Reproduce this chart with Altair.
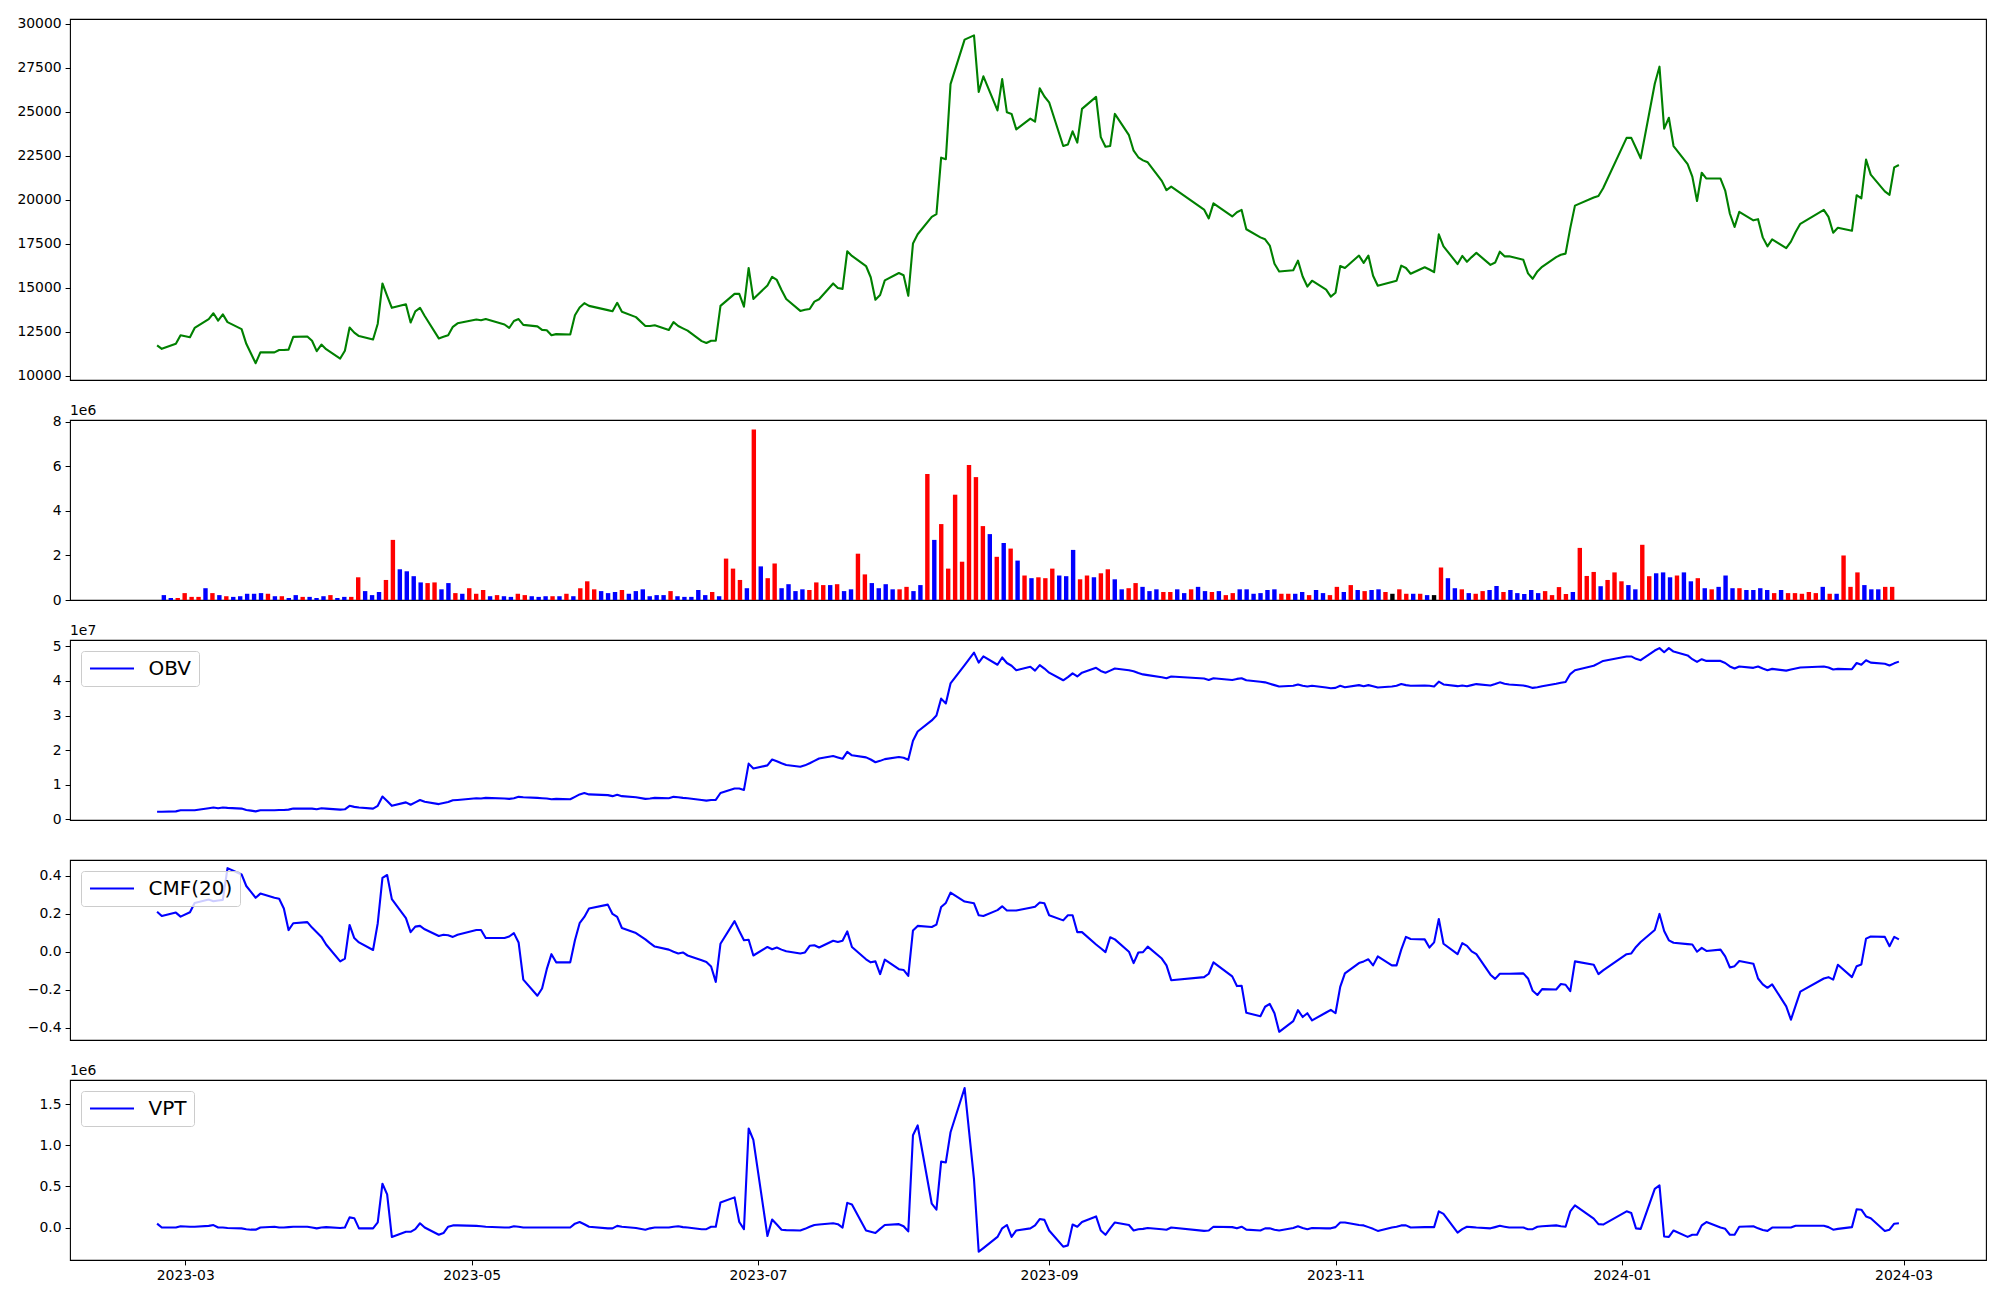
import altair as alt
import pandas as pd

# ---------------- data ----------------
TRADING_DAYS = [
    ("2023-02", [23, 24, 27, 28]),
    ("2023-03", [2, 3, 6, 7, 8, 9, 10, 13, 14, 15, 16, 17, 20, 21, 22, 23, 24, 27, 28, 29, 30, 31]),
    ("2023-04", [3, 4, 5, 6, 7, 10, 11, 12, 13, 14, 17, 18, 19, 20, 21, 24, 25, 26, 27, 28]),
    ("2023-05", [2, 3, 4, 8, 9, 10, 11, 12, 15, 16, 17, 18, 19, 22, 23, 24, 25, 26, 30, 31]),
    ("2023-06", [1, 2, 5, 7, 8, 9, 12, 13, 14, 15, 16, 19, 20, 21, 22, 23, 26, 27, 28, 29, 30]),
    ("2023-07", [3, 4, 5, 6, 7, 10, 11, 12, 13, 14, 17, 18, 19, 20, 21, 24, 25, 26, 27, 28, 31]),
    ("2023-08", [1, 2, 3, 4, 7, 8, 9, 10, 11, 14, 16, 17, 18, 21, 22, 23, 24, 25, 28, 29, 30, 31]),
    ("2023-09", [1, 4, 5, 6, 7, 8, 11, 12, 13, 14, 15, 18, 19, 20, 21, 22, 25, 26, 27]),
    ("2023-10", [4, 5, 6, 10, 11, 12, 13, 16, 17, 18, 19, 20, 23, 24, 25, 26, 27, 30, 31]),
    ("2023-11", [1, 2, 3, 6, 7, 8, 9, 10, 13, 14, 15, 16, 17, 20, 21, 22, 23, 24, 27, 28, 29, 30]),
    ("2023-12", [1, 4, 5, 6, 7, 8, 11, 12, 13, 14, 15, 18, 19, 20, 21, 22, 26, 27, 28]),
    ("2024-01", [2, 3, 4, 5, 8, 9, 10, 11, 12, 15, 16, 17, 18, 19, 22, 23, 24, 25, 26, 29, 30, 31]),
    ("2024-02", [1, 2, 5, 6, 7, 8, 13, 14, 15, 16, 19, 20, 21, 22, 23, 26, 27, 28, 29]),
]
DATES = [f"{m}-{d:02d}" for m, days in TRADING_DAYS for d in days]

PRICE = [
    11736, 11539, 11824, 12308,
    12198, 12726, 13231, 13561, 13143, 13495, 13055, 12660, 11824, 11275, 10725, 11341, 11341, 11473, 11473, 11495, 12220, 12242, 12000, 11407, 11780, 11517,
    10989, 11429, 12748, 12462, 12264, 12066, 12967, 15253, 14550, 13868, 14066, 13033, 13671, 13868, 13407, 12132, 12220, 12308, 12791, 12989,
    13209, 13165, 13231, 12923, 12725, 13121, 13231, 12901, 12813, 12616, 12594, 12308, 12374, 12352, 13451, 13890, 14132, 13978, 13737, 13671,
    14154, 13649, 13341, 12835, 12835, 12879, 12616, 13055, 12835, 12704, 12572, 11978, 11868, 12000, 12000, 13978, 14660, 14660, 13934, 16132, 14374,
    15143, 15627, 15451, 14880, 14374, 13693, 13759, 13803, 14220, 14352, 15253, 14990, 14946, 17077, 16814, 16242, 15605, 14330, 14594, 15429, 15847,
    15715, 14550, 17517, 18045, 19034, 19188, 22397, 22309, 26573, 29101, 29342, 26133, 27013, 25079, 26859, 24968, 24881, 24001, 24617, 24441, 26331, 25870,
    25540, 23056, 23144, 23891, 23254, 25166, 25848, 23562, 23012, 23056, 24880, 23672, 22792, 22419, 22243, 22133, 21078, 20550, 20748,
    19451, 18946, 19803, 19056, 19298, 19429, 18330, 17869, 17759, 17407, 16374, 15935, 16001, 16550, 15649, 15077, 15407, 14902, 14506,
    14726, 16242, 16132, 16836, 16418, 16836, 15693, 15121, 15341, 15407, 16264, 16132, 15803, 16176, 16044, 15891, 18045, 17363, 16352, 16814, 16484, 16748,
    16990, 16308, 16440, 17055, 16792, 16792, 16594, 15825, 15517, 15935, 16198, 16748, 16880, 16946, 18396, 19671, 20133, 20221, 20660,
    23518, 23518, 22946, 22353, 26595, 27562, 24045, 24661, 23056, 22023, 21320, 19935, 21540, 21210, 21210, 20528, 19210, 18462, 19320, 18836, 18902, 17869,
    17363, 17759, 17253, 17627, 18177, 18638, 19429, 19034, 18133, 18418, 18243, 20265, 20089, 22287, 21430, 20485, 20287, 21847, 21979,
]

# volume, in units of 1e6 (one bar per trading session, drawn by session number)
VOLUME = [
    0.22, 0.09, 0.09, 0.31, 0.14, 0.14, 0.53, 0.31, 0.22, 0.17,
    0.14, 0.17, 0.28, 0.28, 0.31, 0.28, 0.17, 0.17, 0.09, 0.22,
    0.14, 0.14, 0.09, 0.17, 0.22, 0.09, 0.14, 0.14, 1.02, 0.40,
    0.22, 0.36, 0.90, 2.70, 1.38, 1.29, 1.07, 0.79, 0.76, 0.79,
    0.48, 0.76, 0.31, 0.28, 0.53, 0.28, 0.45, 0.17, 0.22, 0.17,
    0.14, 0.28, 0.22, 0.17, 0.14, 0.17, 0.17, 0.17, 0.28, 0.17,
    0.53, 0.84, 0.48, 0.40, 0.31, 0.36, 0.45, 0.28, 0.40, 0.48,
    0.17, 0.22, 0.22, 0.40, 0.17, 0.14, 0.14, 0.45, 0.22, 0.36,
    0.17, 1.86, 1.41, 0.90, 0.53, 7.66, 1.51, 0.98, 1.64, 0.53,
    0.71, 0.40, 0.48, 0.45, 0.79, 0.67, 0.67, 0.71, 0.40, 0.48,
    2.08, 1.15, 0.76, 0.53, 0.71, 0.48, 0.48, 0.59, 0.40, 0.67,
    5.66, 2.70, 3.41, 1.41, 4.73, 1.72, 6.06, 5.52, 3.32, 2.96,
    1.94, 2.56, 2.31, 1.77, 1.10, 0.98, 1.02, 0.98, 1.41, 1.10,
    1.07, 2.25, 0.93, 1.10, 1.02, 1.20, 1.38, 0.93, 0.48, 0.53,
    0.76, 0.59, 0.40, 0.48, 0.36, 0.36, 0.48, 0.31, 0.48, 0.59,
    0.40, 0.36, 0.40, 0.22, 0.31, 0.48, 0.48, 0.28, 0.31, 0.45,
    0.48, 0.28, 0.28, 0.28, 0.36, 0.22, 0.45, 0.31, 0.22, 0.59,
    0.36, 0.67, 0.45, 0.40, 0.45, 0.48, 0.36, 0.28, 0.48, 0.28,
    0.28, 0.28, 0.22, 0.22, 1.46, 0.98, 0.53, 0.48, 0.31, 0.28,
    0.40, 0.45, 0.63, 0.36, 0.45, 0.31, 0.27, 0.45, 0.31, 0.40,
    0.22, 0.58, 0.27, 0.36, 2.34, 1.08, 1.26, 0.62, 0.90, 1.24,
    0.84, 0.67, 0.48, 2.48, 1.07, 1.20, 1.24, 1.02, 1.10, 1.24,
    0.84, 0.98, 0.53, 0.48, 0.59, 1.10, 0.53, 0.53, 0.45, 0.45,
    0.53, 0.45, 0.31, 0.45, 0.31, 0.31, 0.28, 0.36, 0.31, 0.59,
    0.28, 0.28, 2.00, 0.59, 1.24, 0.67, 0.48, 0.48, 0.59, 0.59,
]
# bar colour per session: r = up, b = down, k = unchanged
BAR_COLOR_CODES = (
    "bbrrrrbrbr" "bbbbbrbrbb" "rbbbrbbrrb" "bbrrbbbbrr" "bbrbrrrbrb"
    "brrbbbrbrb" "rrrbbbrbbb" "bbbrbbbbbr" "brrrbrbrrb" "bbbrrrbrbb"
    "rrbbbbrrbb" "rbrrrrrrrb" "rbrbrbrrrb" "bbrrbrrbbr" "rbbbrrbbrb"
    "brbrrbbbbb" "brrbbrbbrr" "brbrbbrkrr" "brbkrbbrbr" "rbbrbbbbbr"
    "rrrbrrrbrr" "rbbrrbbbrb" "brbrbbbrbb" "bbrbrrrrrb" "rbrrrbbbrr"
)
COLOR_NAMES = {"r": "#ff0000", "b": "#0000ff", "k": "#000000"}

# OBV, in units of 1e7
OBV = [
    0.22, 0.22, 0.23, 0.26,
    0.26, 0.26, 0.32, 0.34, 0.32, 0.34, 0.33, 0.31, 0.27, 0.25, 0.23, 0.26, 0.26, 0.27, 0.27, 0.28, 0.31, 0.31, 0.31, 0.29, 0.32, 0.31,
    0.28, 0.29, 0.39, 0.36, 0.34, 0.31, 0.39, 0.66, 0.53, 0.39, 0.49, 0.42, 0.49, 0.56, 0.51, 0.44, 0.47, 0.50, 0.55, 0.56,
    0.61, 0.60, 0.62, 0.60, 0.59, 0.61, 0.65, 0.64, 0.62, 0.61, 0.60, 0.58, 0.59, 0.58, 0.65, 0.72, 0.76, 0.72, 0.70, 0.67,
    0.71, 0.67, 0.64, 0.59, 0.60, 0.62, 0.61, 0.65, 0.64, 0.62, 0.61, 0.56, 0.54, 0.56, 0.56, 0.76, 0.89, 0.89, 0.85, 1.61, 1.47,
    1.56, 1.73, 1.68, 1.62, 1.57, 1.52, 1.56, 1.62, 1.69, 1.76, 1.83, 1.79, 1.75, 1.95, 1.85, 1.79, 1.73, 1.65, 1.69, 1.74, 1.80,
    1.78, 1.72, 2.27, 2.54, 2.86, 3.00, 3.49, 3.35, 3.93, 4.46, 4.82, 4.53, 4.71, 4.47, 4.68, 4.52, 4.44, 4.31, 4.41, 4.30, 4.46, 4.36,
    4.24, 4.02, 4.11, 4.22, 4.13, 4.24, 4.38, 4.29, 4.24, 4.30, 4.36, 4.31, 4.28, 4.23, 4.19, 4.17, 4.11, 4.08, 4.13,
    4.07, 4.03, 4.08, 4.03, 4.06, 4.08, 4.02, 3.98, 3.96, 3.92, 3.88, 3.84, 3.86, 3.90, 3.86, 3.84, 3.86, 3.81, 3.79,
    3.80, 3.86, 3.82, 3.88, 3.85, 3.88, 3.85, 3.81, 3.84, 3.86, 3.91, 3.88, 3.86, 3.87, 3.86, 3.84, 3.98, 3.90, 3.85, 3.87, 3.85, 3.88,
    3.91, 3.87, 3.91, 3.96, 3.92, 3.90, 3.87, 3.84, 3.80, 3.82, 3.85, 3.92, 3.95, 3.97, 4.20, 4.31, 4.44, 4.51, 4.58,
    4.71, 4.71, 4.64, 4.60, 4.88, 4.95, 4.83, 4.95, 4.85, 4.74, 4.63, 4.55, 4.63, 4.58, 4.58, 4.52, 4.42, 4.36, 4.42, 4.38, 4.42, 4.36,
    4.31, 4.35, 4.30, 4.33, 4.36, 4.39, 4.42, 4.39, 4.33, 4.35, 4.34, 4.52, 4.47, 4.60, 4.53, 4.50, 4.45, 4.51, 4.56,
]

CMF = [
    0.210, 0.188, 0.206, 0.185,
    0.208, 0.257, 0.275, 0.266, 0.270, 0.273, 0.440, 0.407, 0.346, 0.315, 0.284, 0.306, 0.284, 0.279, 0.228, 0.114, 0.150, 0.156, 0.127, 0.103, 0.078, 0.038,
    -0.051, -0.036, 0.141, 0.072, 0.049, 0.009, 0.150, 0.389, 0.404, 0.277, 0.177, 0.103, 0.132, 0.136, 0.118, 0.083, 0.089, 0.087, 0.078, 0.089,
    0.114, 0.114, 0.072, 0.072, 0.080, 0.098, 0.049, -0.147, -0.232, -0.194, -0.092, -0.013, -0.056, -0.056, 0.060, 0.150, 0.183, 0.228, 0.248, 0.199,
    0.183, 0.125, 0.098, 0.065, 0.045, 0.027, 0.011, 0.000, -0.009, -0.004, -0.020, -0.045, -0.054, -0.078, -0.159, 0.042, 0.161, 0.109, 0.060, 0.063, -0.020,
    0.025, 0.013, 0.022, 0.011, 0.002, -0.009, -0.004, 0.031, 0.034, 0.022, 0.058, 0.051, 0.058, 0.107, 0.025, -0.040, -0.056, -0.051, -0.118, -0.042, -0.092,
    -0.096, -0.127, 0.112, 0.136, 0.130, 0.143, 0.235, 0.257, 0.311, 0.264, 0.255, 0.192, 0.188, 0.219, 0.239, 0.217, 0.217, 0.217, 0.232, 0.237, 0.259, 0.255,
    0.192, 0.165, 0.192, 0.192, 0.103, 0.103, 0.038, 0.018, -0.002, 0.076, 0.065, 0.000, -0.060, -0.004, -0.002, 0.027, -0.036, -0.072, -0.150,
    -0.134, -0.116, -0.056, -0.130, -0.181, -0.179, -0.322, -0.340, -0.290, -0.275, -0.324, -0.422, -0.366, -0.308, -0.344, -0.324, -0.362, -0.320, -0.306,
    -0.324, -0.185, -0.114, -0.060, -0.051, -0.040, -0.072, -0.025, -0.072, -0.072, 0.011, 0.078, 0.067, 0.065, 0.022, 0.049, 0.172, 0.042, -0.013, 0.045, 0.031, 0.002,
    -0.013, -0.121, -0.143, -0.116, -0.116, -0.116, -0.114, -0.141, -0.206, -0.228, -0.197, -0.199, -0.170, -0.174, -0.208, -0.051, -0.069, -0.118, -0.098,
    -0.013, -0.009, 0.025, 0.051, 0.114, 0.199, 0.109, 0.060, 0.047, 0.040, 0.038, 0.000, 0.020, 0.004, 0.011, -0.025, -0.083, -0.076, -0.049, -0.063, -0.141, -0.172,
    -0.190, -0.172, -0.288, -0.358, -0.284, -0.210, -0.141, -0.134, -0.147, -0.069, -0.134, -0.076, -0.067, 0.069, 0.080, 0.078, 0.029, 0.078, 0.065,
]

# VPT, in units of 1e6
VPT = [
    0.047, 0.000, 0.000, 0.016,
    0.010, 0.010, 0.020, 0.030, 0.000, 0.000, -0.005, -0.010, -0.020, -0.026, -0.026, 0.000, 0.010, 0.000, 0.000, 0.005, 0.010, 0.010, 0.000, -0.010, 0.000, 0.005,
    -0.005, 0.000, 0.124, 0.114, -0.010, -0.010, 0.062, 0.533, 0.404, -0.114, -0.052, -0.052, -0.020, 0.052, 0.000, -0.088, -0.067, 0.010, 0.026, 0.026,
    0.020, 0.016, 0.010, 0.000, 0.000, 0.016, 0.010, 0.000, 0.000, 0.000, 0.000, 0.000, 0.000, 0.000, 0.047, 0.067, 0.040, 0.010, -0.010, -0.010,
    0.020, 0.010, -0.005, -0.026, -0.010, 0.000, 0.000, 0.010, 0.016, 0.005, 0.000, -0.020, -0.020, 0.010, 0.010, 0.305, 0.367, 0.067, -0.020, 1.205, 1.066,
    -0.103, 0.098, 0.036, -0.026, -0.031, -0.036, -0.016, 0.010, 0.031, 0.036, 0.052, 0.041, 0.000, 0.300, 0.279, -0.036, -0.052, -0.067, -0.016, 0.031, 0.041,
    0.016, -0.047, 1.123, 1.242, 0.290, 0.217, 0.802, 0.792, 1.159, 1.697, 0.585, -0.295, -0.250, -0.114, -0.010, 0.031, -0.114, -0.036, -0.010, 0.026, 0.103, 0.093,
    -0.036, -0.233, -0.217, 0.036, 0.010, 0.067, 0.135, -0.036, -0.088, -0.010, 0.062, 0.031, -0.036, -0.020, -0.016, -0.005, -0.020, -0.026, 0.000,
    -0.041, -0.036, 0.010, 0.005, -0.010, 0.010, -0.026, -0.036, -0.010, -0.010, -0.026, -0.036, -0.005, 0.016, -0.005, -0.020, -0.005, -0.010, -0.010,
    0.005, 0.062, 0.062, 0.031, 0.026, 0.005, -0.016, -0.041, 0.000, 0.010, 0.026, 0.026, 0.000, 0.005, 0.005, 0.005, 0.197, 0.166, -0.062, -0.020, 0.010, 0.005,
    0.000, -0.010, 0.005, 0.021, 0.010, 0.000, 0.000, -0.020, -0.020, 0.010, 0.016, 0.026, 0.016, 0.010, 0.197, 0.269, 0.109, 0.041, 0.036,
    0.197, 0.176, -0.010, -0.016, 0.471, 0.512, -0.109, -0.114, -0.036, -0.114, -0.088, -0.088, 0.026, 0.067, 0.000, -0.016, -0.088, -0.088, 0.010, 0.016, -0.010, -0.031,
    -0.041, 0.000, 0.000, 0.000, 0.021, 0.021, 0.021, 0.005, -0.026, -0.016, 0.005, 0.222, 0.217, 0.135, 0.114, -0.041, -0.026, 0.047, 0.052,
]

PRICE_TICKS = [10000, 12500, 15000, 17500, 20000, 22500, 25000, 27500, 30000]
VOLUME_TICKS = [0, 2, 4, 6, 8]
OBV_TICKS = [0, 1, 2, 3, 4, 5]
CMF_TICKS = [-0.4, -0.2, 0.0, 0.2, 0.4]
VPT_TICKS = [0.0, 0.5, 1.0, 1.5]
MONTH_TICKS = [(2023, 3), (2023, 5), (2023, 7), (2023, 9), (2023, 11), (2024, 1), (2024, 3)]

for arr in (PRICE, VOLUME, OBV, CMF, VPT, BAR_COLOR_CODES):
    assert len(arr) == len(DATES), len(arr)

# ---------------- tables ----------------
lines_df = pd.DataFrame({"date": DATES, "close": PRICE, "obv": OBV, "cmf": CMF, "vpt": VPT})
bars_df = pd.DataFrame({
    "session": list(range(len(VOLUME))),
    "volume": VOLUME,
    "color": [COLOR_NAMES[c] for c in BAR_COLOR_CODES],
})

# ---------------- styling ----------------
FONT = "DejaVu Sans"
W = 1916
X_SCALE = alt.Scale(
    type="utc",
    domain=[
        alt.DateTime(year=2023, month=2, date=4, hours=10, minutes=48, utc=True),
        alt.DateTime(year=2024, month=3, date=18, hours=13, minutes=12, utc=True),
    ],
)
X_AXIS = alt.Axis(
    title=None,
    values=[alt.DateTime(year=y, month=m, date=1, utc=True) for y, m in MONTH_TICKS],
    labelExpr="utcFormat(datum.value, '%Y-%m')",
    labelFontSize=13.9,
    labelPadding=4,
)


def y_axis(values, fmt):
    return alt.Axis(title=None, values=values, format=fmt)


def offset_label(txt):
    return alt.Chart(pd.DataFrame({"t": [txt]})).mark_text(
        align="left", baseline="bottom", dy=-2, font=FONT, fontSize=13.9, color="black"
    ).encode(x=alt.value(0), y=alt.value(0), text="t:N")


def legend():
    return alt.Legend(
        title=None, orient="top-left", offset=11, padding=7.5, clipHeight=20,
        fillColor="rgba(255,255,255,0.8)", strokeColor="#cccccc", cornerRadius=3,
        symbolType="stroke", symbolSize=1936, symbolStrokeWidth=2.1,
        labelFont=FONT, labelFontSize=20, labelColor="black", labelOffset=13,
        labelExpr="datum.label + '\u2002'",
    )


def indicator(field, name, domain, ticks, fmt, height, show_x=False):
    return alt.Chart(lines_df).transform_calculate(series=f"'{name}'").mark_line(
        strokeWidth=2.1, strokeJoin="round"
    ).encode(
        x=alt.X("date:T", scale=X_SCALE, axis=X_AXIS if show_x else None),
        y=alt.Y(f"{field}:Q", scale=alt.Scale(domain=domain, nice=False, zero=False), axis=y_axis(ticks, fmt)),
        color=alt.Color("series:N", scale=alt.Scale(domain=[name], range=["#0000ff"]), legend=legend()),
    ).properties(width=W, height=height)


price = alt.Chart(lines_df).mark_line(color="#008000", strokeWidth=2.1, strokeJoin="round").encode(
    x=alt.X("date:T", scale=X_SCALE, axis=None),
    y=alt.Y("close:Q", scale=alt.Scale(domain=[9770, 30270], nice=False, zero=False), axis=y_axis(PRICE_TICKS, "d")),
).properties(width=W, height=361)

volume = alt.layer(
    alt.Chart(bars_df).mark_bar(size=4.4).encode(
        x=alt.X("session:Q", scale=alt.Scale(domain=[-12.8, 261.8], nice=False, zero=False), axis=None),
        y=alt.Y("volume:Q", scale=alt.Scale(domain=[0, 8.085], nice=False), axis=y_axis(VOLUME_TICKS, "d")),
        color=alt.Color("color:N", scale=None),
    ),
    offset_label("1e6"),
).properties(width=W, height=180)

obv = alt.layer(
    indicator("obv", "OBV", [-0.02, 5.185], OBV_TICKS, "d", 180),
    offset_label("1e7"),
)
cmf = indicator("cmf", "CMF(20)", [-0.465, 0.483], CMF_TICKS, ".1f", 180)
vpt = alt.layer(
    indicator("vpt", "VPT", [-0.395, 1.795], VPT_TICKS, ".1f", 180, show_x=True),
    offset_label("1e6"),
)

chart = alt.vconcat(price, volume, obv, cmf, vpt, spacing=40, bounds="flush").resolve_scale(
    color="independent", x="independent"
).properties(
    padding={"left": 8, "top": 8, "right": 5, "bottom": 5},
    background="white",
).configure_view(
    stroke="black", strokeWidth=1.1
).configure_axis(
    labelFont=FONT, labelFontSize=13.9, labelColor="black",
    tickColor="black", tickSize=4.9, tickWidth=1, labelPadding=4,
    domain=False, grid=False,
)

chart.save("out.html", embed_options={"renderer": "svg", "actions": False})
